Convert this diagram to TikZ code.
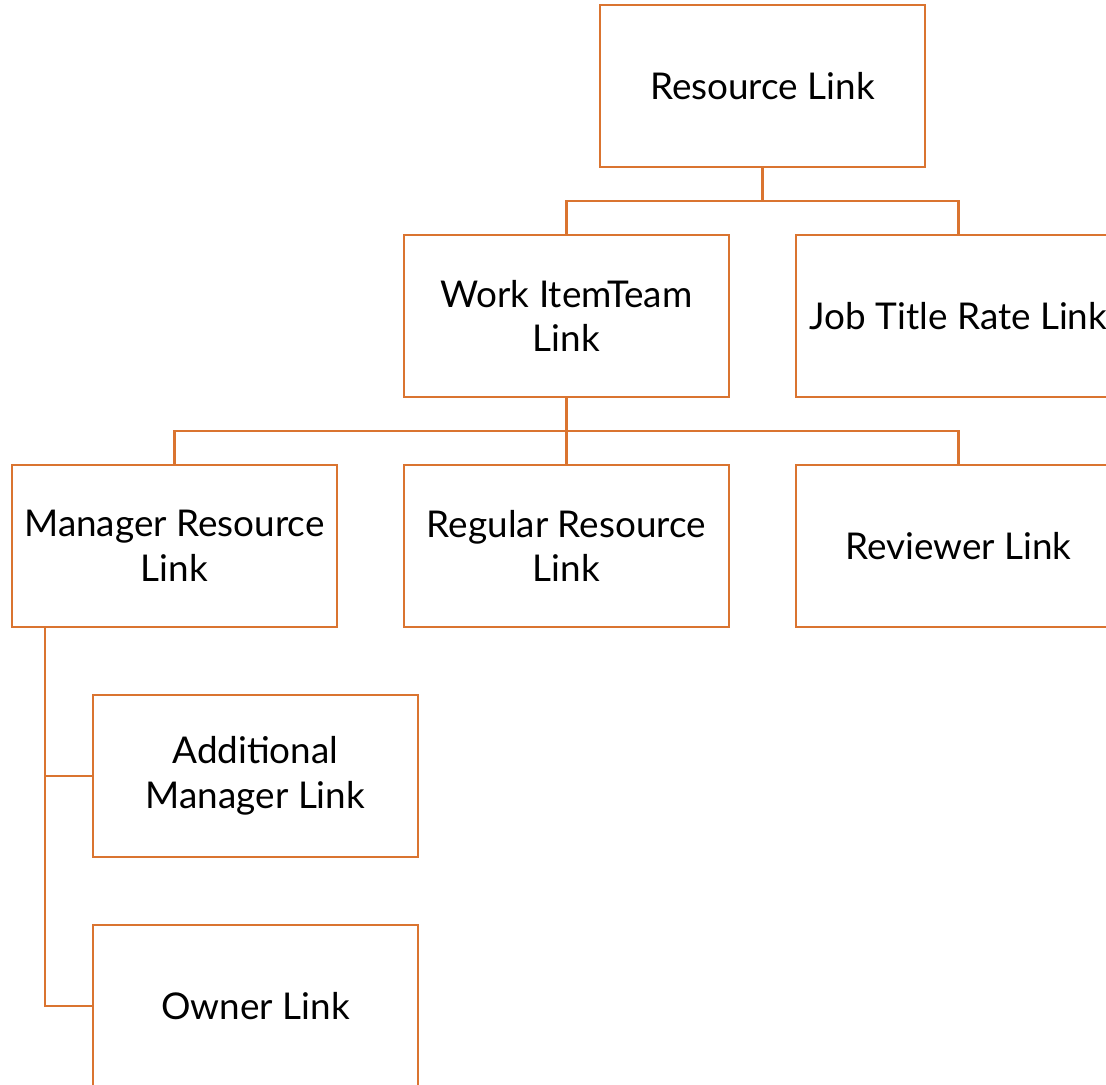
\documentclass[tikz,border=0pt]{standalone}
\usepackage{fontspec}
\setmainfont{Lato}
\definecolor{lineor}{RGB}{218,116,48}
\tikzset{
  box/.style={draw=lineor, line width=2.5bp, fill=white, minimum width=325bp, minimum height=162bp,
    inner sep=0pt, align=center, font=\fontsize{37}{45}\selectfont, text=black},
  conn/.style={draw=lineor, line width=2.5bp}
}
\begin{document}
\begin{tikzpicture}[x=1bp,y=-1bp]
\useasboundingbox (0,0) rectangle (1106,1085);
\clip (0,0) rectangle (1106,1085);
\node[box] (res) at (762.5,86) {Resource Link};
\node[box] (wit) at (566.5,316) {Work ItemTeam\\Link};
\node[box] (job) at (958.5,316) {Job Title Rate Link};
\node[box] (mgr) at (174.5,546) {Manager Resource\\Link};
\node[box] (reg) at (566.5,546) {Regular Resource\\Link};
\node[box] (rev) at (958.5,546) {Reviewer Link};
\node[box] (add) at (255.5,776) {Additional\\Manager Link};
\node[box] (own) at (255.5,1006) {Owner Link};
\coordinate (j1) at (762.5,201);
\coordinate (j2) at (566.5,431);
\coordinate (mt) at (45,627);
\draw[conn] (res.south) -- (j1);
\draw[conn] (wit.north) |- (j1) -| (job.north);
\draw[conn] (wit.south) -- (reg.north);
\draw[conn] (mgr.north) |- (j2) -| (rev.north);
\draw[conn] (mt) |- (add.west);
\draw[conn] (mt) |- (own.west);
\end{tikzpicture}
\end{document}
